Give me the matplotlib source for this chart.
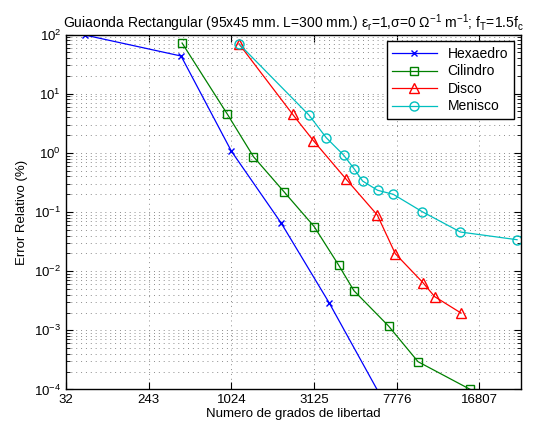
import matplotlib
matplotlib.use('Agg')
import matplotlib.pyplot as plt
import numpy as np

plt.rcParams['font.family'] = ['Liberation Sans', 'DejaVu Sans']
plt.rcParams['mathtext.default'] = 'regular'

# grados de libertad y error relativo (%)
hexa_dof = [55, 449, 1024, 2066, 3744, 6851]
hexa_err = [98, 43.3, 1.07, 0.065, 0.0029, 6e-5]

cil_dof = [457, 965, 1416, 2149, 3133, 4170, 4955, 7161, 9598, 15540]
cil_err = [71.8, 4.48, 0.86, 0.218, 0.0565, 0.0127, 0.00467, 0.00118, 0.000295, 0.0001]

disco_dof = [1150, 2393, 3105, 4549, 6369, 7668, 10068, 11242, 14306]
disco_err = [69.1, 4.5, 1.6, 0.357, 0.089, 0.0197, 0.00638, 0.00371, 0.00196]

men_dof = [1150, 2936, 3616, 4412, 4974, 5445, 6390, 7514, 10003, 14223, 23042]
men_err = [69.1, 4.36, 1.80, 0.919, 0.533, 0.334, 0.233, 0.199, 0.101, 0.0459, 0.034]

xticks = [32, 243, 1024, 3125, 7776, 16807]

fig = plt.figure(figsize=(5.4, 4.32), dpi=100)
ax = fig.add_axes([0.1222, 0.0984, 0.8421, 0.8217])

# eje x lineal en dof^(1/5)
ax.set_xscale('function', functions=(lambda x: np.power(np.maximum(x, 0), 0.2),
                                     lambda x: np.power(x, 5)))
ax.set_yscale('log')

ax.plot(hexa_dof, hexa_err, color='b', marker='x', ms=5, lw=0.9, label='Hexaedro')
ax.plot(cil_dof, cil_err, color=(0, 0.5, 0), marker='s', ms=5.5, mfc='none', lw=0.9, label='Cilindro')
ax.plot(disco_dof, disco_err, color='r', marker='^', ms=7.5, mfc='none', lw=0.9, label='Disco')
ax.plot(men_dof, men_err, color=(0, 0.75, 0.75), marker='o', ms=6.5, mfc='none', lw=0.9, label='Menisco')

ax.set_xlim(32, 7.5 ** 5)
ax.set_ylim(1e-4, 1e2)
ax.set_xticks(xticks)
ax.set_xticklabels([str(t) for t in xticks])
ax.xaxis.set_minor_locator(matplotlib.ticker.NullLocator())

ax.grid(True, which='major', linestyle=(0, (1, 4)), color='0.55', lw=0.7)
ax.grid(True, which='minor', axis='y', linestyle=(0, (1, 4)), color='0.55', lw=0.7)
ax.tick_params(which='both', direction='in', top=True, right=True, labelsize=9.5)
ax.tick_params(which='major', length=5)
ax.tick_params(which='minor', length=3)
for s in ax.spines.values():
    s.set_linewidth(1.0)

ax.set_xlabel('Numero de grados de libertad', fontsize=9.5, labelpad=1)
ax.set_ylabel('Error Relativo (%)', fontsize=9.5)
ax.set_title(r'Guiaonda Rectangular (95x45 mm. L=300 mm.) $\epsilon_r$=1,$\sigma$=0 $\Omega^{-1}$ m$^{-1}$; f$_T$=1.5f$_c$',
             fontsize=10, pad=5)

leg = ax.legend(loc='upper right', fontsize=10, fancybox=False, framealpha=1,
                edgecolor='k', handlelength=3.2, borderpad=0.4, labelspacing=0.25)
leg.get_frame().set_linewidth(1.0)

fig.savefig('out.png', dpi=100)
